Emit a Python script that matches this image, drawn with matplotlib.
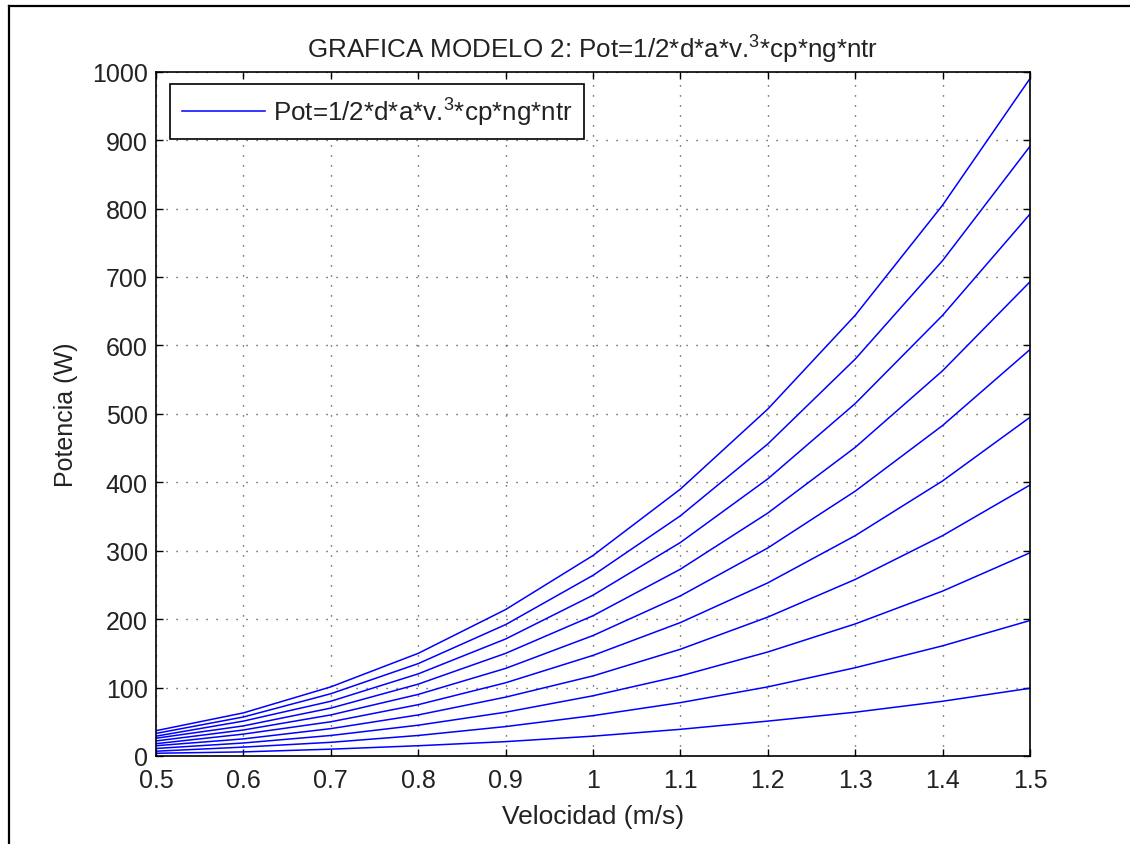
import matplotlib
matplotlib.use("Agg")
import matplotlib.pyplot as plt
from matplotlib.lines import Line2D

plt.rcParams['font.family'] = ['Liberation Sans', 'DejaVu Sans']
plt.rcParams['mathtext.fontset'] = 'custom'
plt.rcParams['mathtext.rm'] = 'Liberation Sans'
plt.rcParams['mathtext.it'] = 'Liberation Sans'

# Velocity samples (m/s)
velocidad = [0.5, 0.6, 0.7, 0.8, 0.9, 1.0, 1.1, 1.2, 1.3, 1.4, 1.5]

# Power curves (W), one per parameter set
pot_1 = [4, 6, 10, 15, 21, 29, 39, 51, 64, 80, 99]
pot_2 = [7, 13, 20, 30, 43, 59, 78, 101, 129, 161, 198]
pot_3 = [11, 19, 30, 45, 64, 88, 117, 152, 193, 241, 297]
pot_4 = [15, 25, 40, 60, 86, 117, 156, 203, 258, 322, 396]
pot_5 = [18, 32, 50, 75, 107, 147, 195, 253, 322, 402, 495]
pot_6 = [22, 38, 60, 90, 128, 176, 234, 304, 387, 483, 594]
pot_7 = [26, 44, 70, 105, 150, 205, 273, 355, 451, 563, 693]
pot_8 = [29, 51, 80, 120, 171, 235, 312, 405, 515, 644, 792]
pot_9 = [33, 57, 91, 135, 192, 264, 351, 456, 580, 724, 891]
pot_10 = [37, 63, 101, 150, 214, 293, 390, 507, 644, 805, 990]

curvas = [pot_1, pot_2, pot_3, pot_4, pot_5, pot_6, pot_7, pot_8, pot_9, pot_10]

x_ticks = [0.5, 0.6, 0.7, 0.8, 0.9, 1.0, 1.1, 1.2, 1.3, 1.4, 1.5]
x_ticklabels = ['0.5', '0.6', '0.7', '0.8', '0.9', '1', '1.1', '1.2', '1.3', '1.4', '1.5']
y_ticks = [0, 100, 200, 300, 400, 500, 600, 700, 800, 900, 1000]

TXT = '#222222'

W, H = 1130, 845
fig = plt.figure(figsize=(W / 100, H / 100), dpi=100)
fig.patch.set_facecolor('white')

left, right, top, bottom = 156, 1030, 72.7, 757
ax = fig.add_axes([left / W, 1 - bottom / H, (right - left) / W, (bottom - top) / H])

for i, serie in enumerate(curvas):
    ax.plot(velocidad, serie, color='#0000ff', lw=1.1,
            label='Pot=1/2*d*a*v.$^{3}$*cp*ng*ntr' if i == 0 else None)

ax.set_xlim(0.5, 1.5)
ax.set_ylim(0, 1000)
ax.set_xticks(x_ticks)
ax.set_xticklabels(x_ticklabels)
ax.set_yticks(y_ticks)

ax.grid(True, color='#333333', linestyle=(0, (0.8, 6.4)), linewidth=1.0)
ax.tick_params(direction='in', length=5, width=1.0, top=True, right=True,
               labelsize=18, colors='black', labelcolor=TXT)
ax.tick_params(axis='x', pad=9)
ax.tick_params(axis='y', pad=6)
for s in ax.spines.values():
    s.set_linewidth(1.2)
    s.set_color('black')

ax.set_title('GRAFICA MODELO 2: Pot=1/2*d*a*v.$^{3}$*cp*ng*ntr', fontsize=18.7,
             pad=10, color=TXT)
ax.set_xlabel('Velocidad (m/s)', fontsize=19, labelpad=8, color=TXT)
ax.set_ylabel('Potencia (W)', fontsize=18, labelpad=10, color=TXT)

leg = ax.legend(loc='upper left', bbox_to_anchor=(14 / 874, 1 - 12 / 684),
                borderaxespad=0, fontsize=18.7, fancybox=False, framealpha=1,
                edgecolor='black', handlelength=3.2, handletextpad=0.3,
                borderpad=0.45)
leg.get_frame().set_linewidth(1.2)
for t in leg.get_texts():
    t.set_color(TXT)

# Outer frame on the left and top of the figure
fig.add_artist(Line2D([9 / W, 9 / W], [0, 1 - 7 / H], transform=fig.transFigure,
                      color='black', lw=1.6))
fig.add_artist(Line2D([9 / W, 1], [1 - 7 / H, 1 - 7 / H], transform=fig.transFigure,
                      color='black', lw=1.6))

fig.savefig('out.png', dpi=100)
